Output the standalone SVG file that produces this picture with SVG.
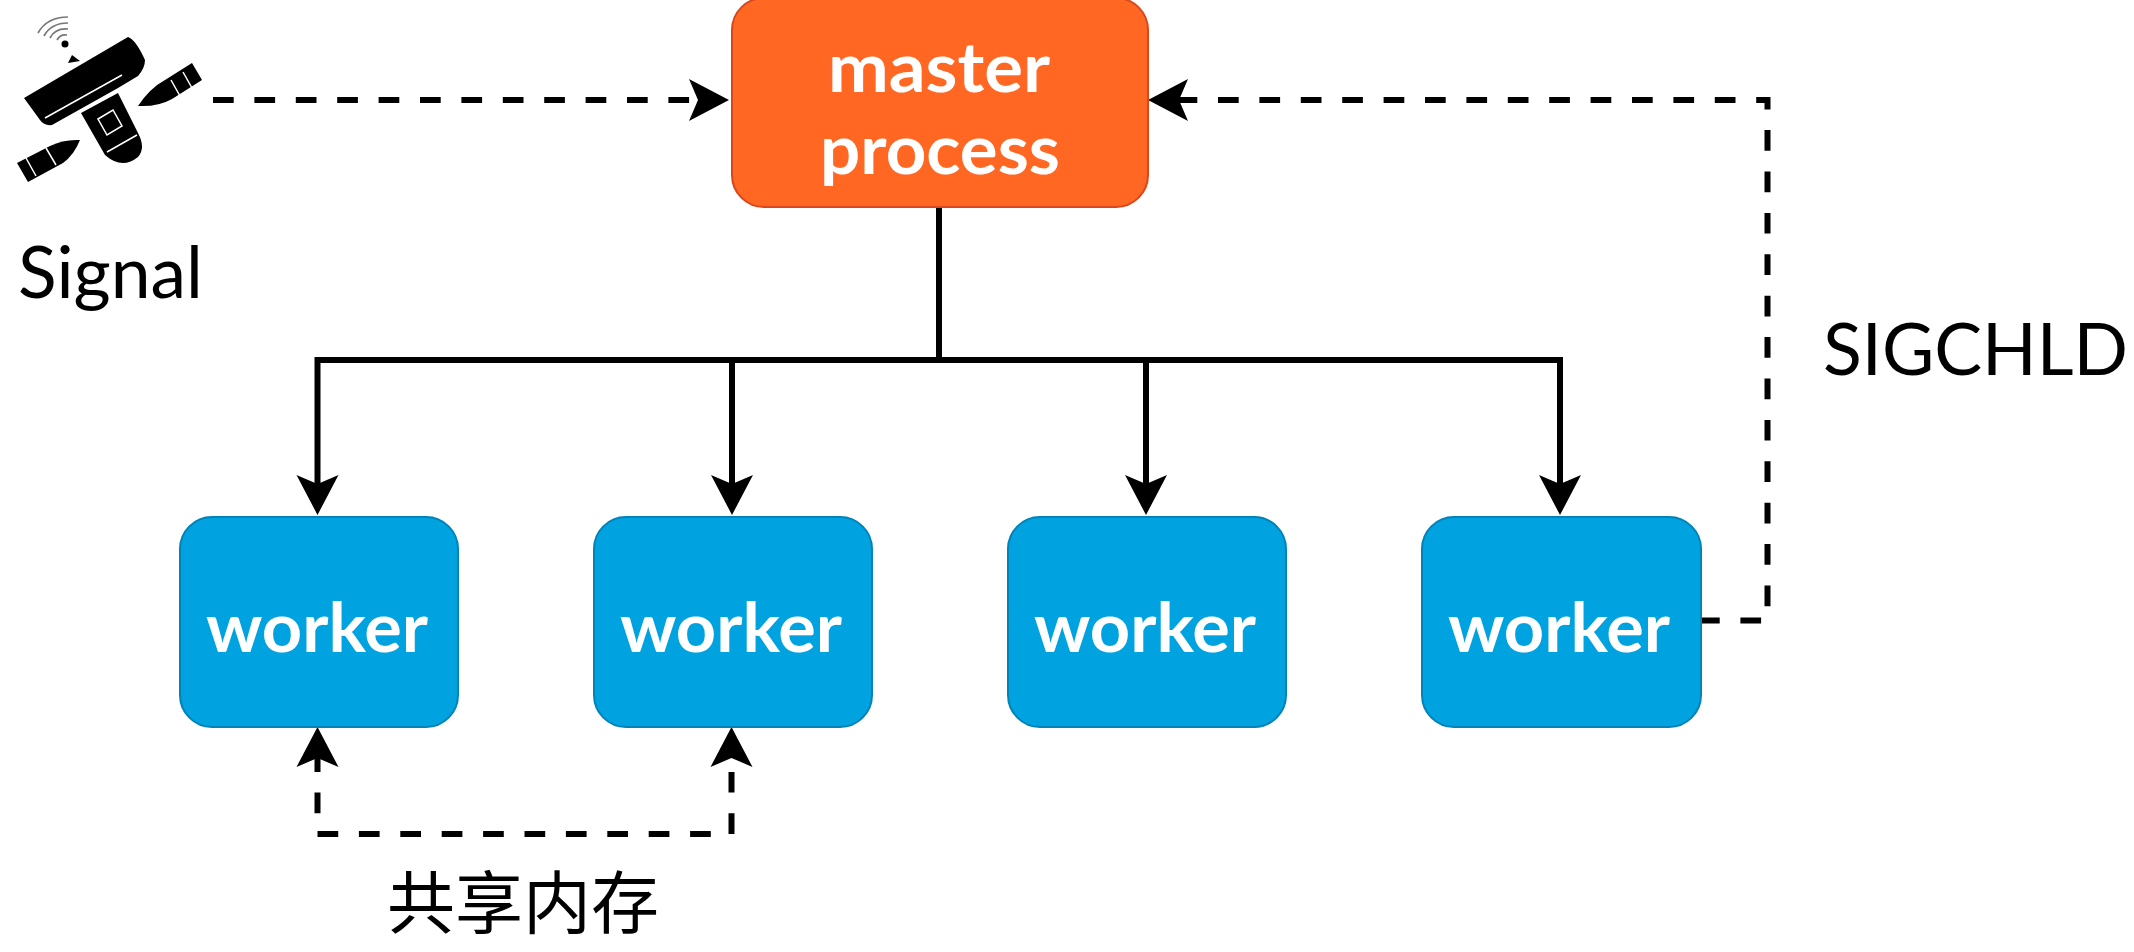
<svg xmlns="http://www.w3.org/2000/svg" width="2134" height="952" viewBox="0 0 2134 952">
<style>
.line{fill:none;stroke:#000;stroke-width:6}
.dash{stroke-dasharray:20.7 20.7}
.master{fill:#ff6723;stroke:#d8481c;stroke-width:2}
.worker{fill:#00a2e0;stroke:#0083b8;stroke-width:2}
.lbl{font-family:"Lato","Noto Sans",sans-serif;font-size:68px;text-anchor:start}
.w{fill:#fff;font-weight:700}
.k{fill:#000;font-size:72px}
.cut{fill:none;stroke:#fff;stroke-width:1.5}
.wave{fill:none;stroke:#777;stroke-width:1.7}
</style>
<defs>
<marker id="arrow" markerUnits="userSpaceOnUse" markerWidth="60" markerHeight="60" refX="0" refY="0" orient="auto" overflow="visible">
<path d="M28,0 L-12,-21 L-3,0 L-12,21 Z" fill="#000"/>
</marker>
</defs>
<rect width="2134" height="952" fill="#fff"/>
<g id="connectors">
<path class="line" d="M939,207 V360" />
<path class="line" d="M939,360 H317.500 V487" marker-end="url(#arrow)"/>
<path class="line" d="M939,360 H1560 V487" marker-end="url(#arrow)"/>
<path class="line" d="M732,360 V487" marker-end="url(#arrow)"/>
<path class="line" d="M1146,360 V487" marker-end="url(#arrow)"/>
<path class="line dash" d="M213,100 H701" marker-end="url(#arrow)"/>
<path class="line dash" stroke-dashoffset="3" d="M1702,620.500 H1767.500 V100 H1176" marker-end="url(#arrow)"/>
<path class="line dash" d="M317.500,834 H731.500 V755" marker-end="url(#arrow)"/>
<path class="line dash" stroke-dashoffset="20.700" d="M317.500,834 V755" marker-end="url(#arrow)"/>
</g>
<g id="signal-icon">
<path fill="#000" d="M24,98 L128,37 Q136,40 145,60 Q145,68 138,76 L118,88 L52,125 Q44,126 40,120 Z"/>
<path class="cut" d="M45,118 L122,75"/>
<path fill="#000" d="M81,113 L118,93 L138,133 Q146,148 138,157 Q122,170 105,155 Z"/>
<path class="cut" d="M107,152 L137,135"/>
<path class="cut" d="M98,119 L113,110 L122,126 L107,135 Z"/>
<path fill="#000" d="M138,106 Q150,88 165,80 L192,63 L202,80 L172,99 Q158,107 138,106 Z"/>
<path class="cut" d="M171,80 L180,96 M183,72 L192,88"/>
<path fill="#000" d="M80,140 Q64,139 50,146 L17,163 L28,182 L63,163 Q74,155 80,140 Z"/>
<path class="cut" d="M26,158 L36,176 M46,148 L56,165"/>
<path fill="#000" d="M72,55 L68,63 L80,61 Z"/>
<circle cx="65" cy="44" r="3.500" fill="#000"/>
<path class="wave" d="M57,40 Q60,34 67,35 M50,38 Q55,28 68,29 M44,36 Q51,23 68,23 M38,33 Q47,17 68,17"/>
</g>
<g id="master">
<rect class="master" x="732" y="-2" width="416" height="209" rx="32"/>
<text class="lbl w" x="828" y="92" textLength="222" lengthAdjust="spacingAndGlyphs">master</text>
<text class="lbl w" x="820" y="174" textLength="240" lengthAdjust="spacingAndGlyphs">process</text>
</g>
<g id="worker1">
<rect class="worker" x="180" y="517" width="278" height="210" rx="32"/>
<text class="lbl w" x="206" y="652" textLength="222" lengthAdjust="spacingAndGlyphs">worker</text>
</g>
<g id="worker2">
<rect class="worker" x="594" y="517" width="278" height="210" rx="32"/>
<text class="lbl w" x="620" y="652" textLength="222" lengthAdjust="spacingAndGlyphs">worker</text>
</g>
<g id="worker3">
<rect class="worker" x="1008" y="517" width="278" height="210" rx="32"/>
<text class="lbl w" x="1034" y="652" textLength="222" lengthAdjust="spacingAndGlyphs">worker</text>
</g>
<g id="worker4">
<rect class="worker" x="1422" y="517" width="279" height="210" rx="32"/>
<text class="lbl w" x="1448" y="652" textLength="222" lengthAdjust="spacingAndGlyphs">worker</text>
</g>
<g id="labels">
<text class="lbl k" x="18" y="298" textLength="185" lengthAdjust="spacingAndGlyphs">Signal</text>
<text class="lbl k" x="1823" y="375" textLength="305" lengthAdjust="spacingAndGlyphs">SIGCHLD</text>
<text class="lbl k" x="387" y="928" textLength="272" lengthAdjust="spacingAndGlyphs" style="font-family:'Noto Sans CJK SC','Noto Sans',sans-serif;font-size:68px">共享内存</text>
</g>
</svg>
